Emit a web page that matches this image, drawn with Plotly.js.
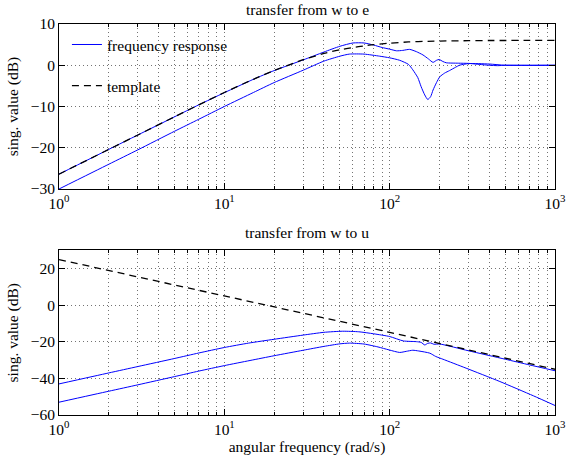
<!DOCTYPE html>
<html>
<head>
<meta charset="utf-8">
<script src="https://cdn.plot.ly/plotly-3.0.1.min.js"></script>
<style>html,body{margin:0;padding:0;background:#fff;}#chart{width:577px;height:461px;}</style>
</head>
<body>
<div id="chart"></div>
<script>
// ---- data: transfer from w to e (top) ----
var tplE_w  = [1,2,3,5,7,10,15,20,30,40,50,60,70,80,100,130,170,220,300,400,500,700,1000];
var tplE_db = [-26.4,-20.4,-16.9,-12.5,-9.6,-6.6,-3.4,-1.3,1.35,2.85,3.75,4.3,4.7,5.0,5.35,5.65,5.8,5.9,5.95,6.0,6.0,6.05,6.05];

var sMaxE_w  = [1,2,3,5,7,10,15,20,30,40,50,60,70,80,90,100,110,120,132,145,159,172,183,192,199,210,220,260,300,350,400,450,500,700,1000];
var sMaxE_db = [-26.4,-20.4,-16.9,-12.5,-9.6,-6.65,-3.4,-1.3,1.3,3.2,4.6,5.4,5.4,4.9,4.3,3.9,3.5,3.6,3.85,3.3,2.5,1.5,0.7,1.2,1.4,0.9,0.6,0.5,0.45,0.2,0.0,-0.1,0.0,0.0,0.0];

var sMinE_w  = [1,2,3,5,7,10,15,20,30,40,50,57,70,87,100,115,130,138,148,155,163,170,177,183,192,201,215,230,250,264,300,400,500,1000];
var sMinE_db = [-30,-24,-20.5,-16,-13.1,-10,-6.6,-4.2,-1.2,1.0,2.2,2.7,2.7,2.2,1.8,1.2,0.2,-1.1,-3.0,-5.2,-7.2,-8.3,-7.6,-6.0,-4.2,-2.8,-1.9,-1.3,-0.5,0.0,0.4,0.3,0.0,0.0];

// ---- data: transfer from w to u (bottom) ----
var tplU_w  = [1,10,100,1000];
var tplU_db = [25,5.2,-14.8,-35];

var sMaxU_w  = [1,2,3,5,7,10,14,20,30,40,52,65,80,100,121,145,155,163,170,177,185,201,300,500,700,1000];
var sMaxU_db = [-43,-37,-33.5,-29.1,-26.1,-23.1,-20.7,-18.6,-16.3,-14.8,-14.2,-14.5,-15.6,-17.1,-19.5,-19.9,-20.3,-21.7,-20.8,-20.6,-21.3,-21.2,-24.9,-29.5,-32.6,-35.8];

var sMinU_w  = [1,2,3,5,7,10,14.3,20,30,40,50,57,70,85,99,115,126,138,150,175,190,210,290,464,740,1000];
var sMinU_db = [-53,-47,-43.5,-39,-36,-33,-30.2,-27.6,-24.6,-22.5,-21.1,-20.7,-21.2,-22.8,-24.4,-25.8,-25.2,-24.6,-25,-26.2,-28,-29.5,-34.4,-41.7,-49.5,-54.8];

var decadeTicks = [1,10,100,1000];
var decadeText  = ['10<sup>0</sup>','10<sup>1</sup>','10<sup>2</sup>','10<sup>3</sup>'];
var minorTicks  = [2,3,4,5,6,7,8,9,20,30,40,50,60,70,80,90,200,300,400,500,600,700,800,900];
var yTopTicks   = [-30,-20,-10,0,10];
var yBotTicks   = [-60,-40,-20,0,20];

var titleTop = 'transfer from w to e';
var titleBot = 'transfer from w to u';
var yLabel   = 'sing. value (dB)';
var xLabel   = 'angular frequency (rad/s)';
var legFR    = 'frequency response';
var legTpl   = 'template';

var BLUE = 'rgb(0,0,255)';
var FONT = '"Liberation Serif", serif';
var FS = 15.5;
var GRID = 'rgba(0,0,0,0.55)';

var traces = [
  {x:sMaxE_w, y:sMaxE_db, xaxis:'x', yaxis:'y', mode:'lines', line:{color:BLUE,width:1,shape:'spline',smoothing:0.6}, name:legFR, legendgroup:'fr', showlegend:true},
  {x:sMinE_w, y:sMinE_db, xaxis:'x', yaxis:'y', mode:'lines', line:{color:BLUE,width:1,shape:'spline',smoothing:0.6}, name:legFR, legendgroup:'fr', showlegend:false},
  {x:tplE_w, y:tplE_db, xaxis:'x', yaxis:'y', mode:'lines', line:{color:'black',width:1.3,dash:'7px,5px',shape:'spline',smoothing:0.6}, name:legTpl, legendgroup:'tpl', showlegend:true},
  {x:sMaxU_w, y:sMaxU_db, xaxis:'x2', yaxis:'y2', mode:'lines', line:{color:BLUE,width:1,shape:'spline',smoothing:0.6}, showlegend:false},
  {x:sMinU_w, y:sMinU_db, xaxis:'x2', yaxis:'y2', mode:'lines', line:{color:BLUE,width:1,shape:'spline',smoothing:0.6}, showlegend:false},
  {x:tplU_w, y:tplU_db, xaxis:'x2', yaxis:'y2', mode:'lines', line:{color:'black',width:1.3,dash:'7px,5px'}, showlegend:false}
];

function xax(anchor, title) {
  var a = {
    type:'log', range:[0,3], anchor:anchor, domain:[0,1],
    tickmode:'array', tickvals:decadeTicks, ticktext:decadeText,
    ticks:'inside', ticklen:6, tickwidth:1, tickcolor:'black',
    showline:true, linecolor:'black', linewidth:1, mirror:'ticks',
    showgrid:true, gridcolor:GRID, griddash:'1px,3px', gridwidth:1,
    minor:{tickmode:'array', tickvals:minorTicks, ticks:'inside', ticklen:3, tickcolor:'black', showgrid:true, gridcolor:GRID, griddash:'1px,3px', gridwidth:1},
    zeroline:false, tickfont:{family:FONT,size:FS,color:'black'}
  };
  if (title) a.title = {text:title, font:{family:FONT,size:FS,color:'black'}, standoff:2};
  return a;
}
function yax(anchor, domain, range, ticks) {
  return {
    anchor:anchor, domain:domain, range:range,
    tickmode:'array', tickvals:ticks,
    ticks:'inside', ticklen:6, tickwidth:1, tickcolor:'black',
    showline:true, linecolor:'black', linewidth:1, mirror:'ticks',
    showgrid:true, gridcolor:GRID, griddash:'1px,3px', gridwidth:1,
    zeroline:false, tickfont:{family:FONT,size:FS,color:'black'},
    title:{text:yLabel, font:{family:FONT,size:FS,color:'black'}, standoff:8}
  };
}

var layout = {
  width:577, height:461,
  margin:{l:59, r:22, t:24, b:46},
  paper_bgcolor:'white', plot_bgcolor:'white',
  font:{family:FONT, size:FS, color:'black'},
  xaxis: xax('y', null),
  yaxis: yax('x', [0.578,1], [-30,10], yTopTicks),
  xaxis2: xax('y2', xLabel),
  yaxis2: yax('x2', [0,0.421], [-60,30], yBotTicks),
  showlegend:true,
  legend:{x:0.016, y:0.99, xanchor:'left', yanchor:'top', bgcolor:'rgba(0,0,0,0)', borderwidth:0,
          font:{family:FONT,size:FS,color:'black'}, tracegroupgap:18, traceorder:'grouped'},
  annotations:[
    {text:titleTop, xref:'paper', yref:'paper', x:0.5, y:1.038, xanchor:'center', yanchor:'middle', showarrow:false, font:{family:FONT,size:FS,color:'black'}},
    {text:titleBot, xref:'paper', yref:'paper', x:0.5, y:0.467, xanchor:'center', yanchor:'middle', showarrow:false, font:{family:FONT,size:FS,color:'black'}}
  ]
};

Plotly.newPlot('chart', traces, layout, {displayModeBar:false, staticPlot:true});
</script>
</body>
</html>
